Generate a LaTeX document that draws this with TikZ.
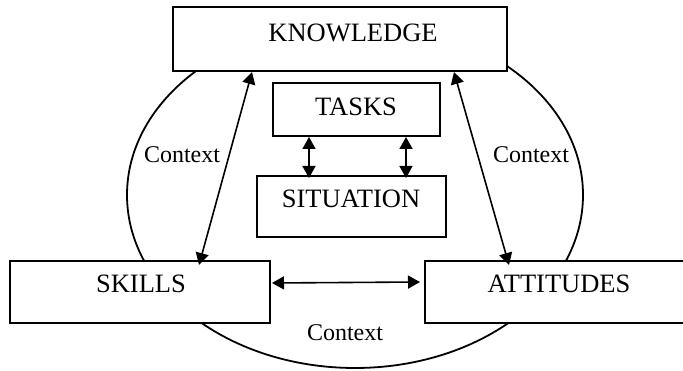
\documentclass[tikz,border=0pt]{standalone}
\usepackage{fontspec}
\setmainfont{Liberation Serif}
\usetikzlibrary{arrows.meta}
\begin{document}
\begin{tikzpicture}[x=1pt,y=-1pt,
  boxnode/.style={draw, line width=2pt, fill=white, rectangle, inner sep=0pt},
  lbl/.style={anchor=base, inner sep=0pt, font=\fontsize{26.5}{30}\selectfont},
  ctx/.style={anchor=base, inner sep=0pt, font=\fontsize{24}{28}\selectfont},
  arr/.style={line width=1.6pt, {Triangle[length=12pt,width=13pt]}-{Triangle[length=12pt,width=13pt]}}
]
\useasboundingbox (0,0) rectangle (683,371);
% ellipse
\draw[line width=1.8pt] (355,195) ellipse [x radius=228, y radius=173];
% boxes
\node[boxnode, minimum width=334pt, minimum height=64pt] (know) at (340,39) {};
\node[lbl] (knowt) at (353,41.7) {KNOWLEDGE};
\node[boxnode, minimum width=167pt, minimum height=53pt] (tasks) at (356.5,109.5) {};
\node[lbl] (taskst) at (356,116) {TASKS};
\node[boxnode, minimum width=189pt, minimum height=61pt] (sit) at (351.5,206.5) {};
\node[lbl] (sitt) at (351,208) {SITUATION};
\node[boxnode, minimum width=260pt, minimum height=62pt] (skills) at (140,292) {};
\node[lbl] (skillst) at (141,293) {SKILLS};
\node[boxnode, minimum width=268pt, minimum height=62pt] (att) at (559,292) {};
\node[lbl] (attt) at (559,293) {ATTITUDES};
% context labels
\node[ctx] (c1) at (182,163) {Context};
\node[ctx] (c2) at (531,163) {Context};
\node[ctx] (c3) at (345,341) {Context};
% arrows
\draw[arr] ([xshift=80pt]know.south west) -- ([xshift=190pt,yshift=-5pt]skills.north west);
\draw[arr] ([xshift=282pt]know.south west) -- ([xshift=85pt,yshift=-5pt]att.north west);
\draw[arr] ([yshift=9pt,xshift=1pt]skills.east) -- ([yshift=10pt,xshift=-4pt]att.west);
\draw[arr] ([xshift=37pt]tasks.south west) -- ([xshift=53pt,yshift=-3pt]sit.north west);
\draw[arr] ([xshift=134pt]tasks.south west) -- ([xshift=150pt,yshift=-3pt]sit.north west);
\end{tikzpicture}
\end{document}
